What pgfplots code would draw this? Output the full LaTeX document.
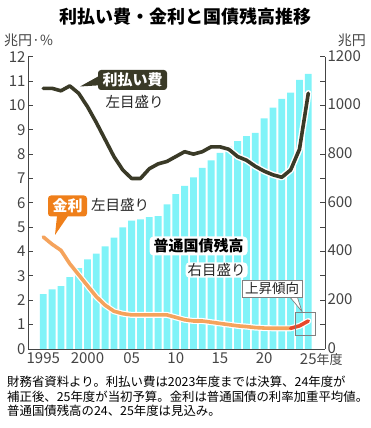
\documentclass[border=0pt]{standalone}
\usepackage{fontspec}
\setmainfont{Noto Sans CJK JP}
\usepackage{pgfplots}
\pgfplotsset{compat=1.18}
\definecolor{barcyan}{HTML}{80F3F8}
\definecolor{darkline}{HTML}{3A3A27}
\definecolor{orangeline}{HTML}{F5A35C}
\definecolor{orangebox}{HTML}{EF7F1A}
\definecolor{redline}{HTML}{E8472B}
\definecolor{axisgray}{HTML}{444444}
\begin{document}
\begin{tikzpicture}
\path[use as bounding box] (0pt,0pt) rectangle (370pt,428pt);
% bars (right axis)
\begin{axis}[at={(28pt,79pt)}, anchor=south west, scale only axis,
  width=297pt, height=292.3pt,
  xmin=1993.27, xmax=2026.89, ymin=0, ymax=1200,
  axis y line*=right, axis x line*=bottom,
  axis line style={line width=0.9pt, draw=axisgray},
  ytick={0,200,...,1200}, minor ytick={100,300,...,1100},
  tick align=inside, major tick length=5pt, minor tick length=5pt,
  every tick/.style={line width=0.9pt, draw=axisgray},
  xtick={1995,2000,2005,2010,2015,2020,2025},
  xticklabels={1995,2000,05,10,15,20,{25\rlap{\fontsize{13}{13}\selectfont 年度}}},
  x tick style={draw=none},
  /pgf/number format/assume math mode=true,
  /pgf/number format/1000 sep={},
  ticklabel style={font=\fontsize{15}{15}\selectfont, text=axisgray},
  xticklabel style={yshift=-0.5pt},
  yticklabel style={xshift=-1pt, yshift=1pt},
  clip=false]
\addplot[ybar, bar width=6.8pt, fill=barcyan, draw=none] coordinates {
(1995,225) (1996,245) (1997,258) (1998,295) (1999,332) (2000,368) (2001,392)
(2002,421) (2003,457) (2004,499) (2005,527) (2006,532) (2007,541) (2008,546)
(2009,594) (2010,636) (2011,670) (2012,705) (2013,744) (2014,774) (2015,805)
(2016,831) (2017,853) (2018,874) (2019,887) (2020,947) (2021,991) (2022,1027)
(2023,1052) (2024,1105) (2025,1129)};
\end{axis}
% lines (left axis)
\begin{axis}[at={(28pt,79pt)}, anchor=south west, scale only axis,
  width=297pt, height=292.3pt,
  xmin=1993.27, xmax=2026.89, ymin=0, ymax=12,
  axis y line*=left, axis x line=none,
  axis line style={line width=0.9pt, draw=axisgray},
  ytick={0,1,...,12},
  tick align=inside, major tick length=5pt,
  every tick/.style={line width=0.9pt, draw=axisgray},
  /pgf/number format/assume math mode=true,
  ticklabel style={font=\fontsize{15}{15}\selectfont, text=axisgray},
  yticklabel style={xshift=1pt},
  clip=false]
\pgfplotsset{payline/.style={line join=round, line cap=round}}
\addplot[white, line width=6.5pt, payline] coordinates {
(1995,10.7) (1996,10.7) (1997,10.6) (1998,10.8) (1999,10.5) (2000,9.95) (2001,9.3)
(2002,8.6) (2003,7.9) (2004,7.35) (2005,7.0) (2006,7.0) (2007,7.4) (2008,7.6)
(2009,7.7) (2010,7.9) (2011,8.1) (2012,8.0) (2013,8.1) (2014,8.3) (2015,8.3)
(2016,8.2) (2017,7.9) (2018,7.75) (2019,7.5) (2020,7.3) (2021,7.15) (2022,7.05)
(2023,7.35) (2024,8.2) (2025,10.5)};
\addplot[darkline, line width=3.6pt, payline] coordinates {
(1995,10.7) (1996,10.7) (1997,10.6) (1998,10.8) (1999,10.5) (2000,9.95) (2001,9.3)
(2002,8.6) (2003,7.9) (2004,7.35) (2005,7.0) (2006,7.0) (2007,7.4) (2008,7.6)
(2009,7.7) (2010,7.9) (2011,8.1) (2012,8.0) (2013,8.1) (2014,8.3) (2015,8.3)
(2016,8.2) (2017,7.9) (2018,7.75) (2019,7.5) (2020,7.3) (2021,7.15) (2022,7.05)
(2023,7.35) (2024,8.2) (2025,10.5)};
\addplot[white, line width=6pt, payline] coordinates {
(1995,4.6) (1996,4.3) (1997,4.05) (1998,3.5) (1999,3.05) (2000,2.6) (2001,2.15)
(2002,1.8) (2003,1.55) (2004,1.45) (2005,1.4) (2006,1.4) (2007,1.4) (2008,1.4)
(2009,1.4) (2010,1.3) (2011,1.2) (2012,1.15) (2013,1.15) (2014,1.1) (2015,1.05)
(2016,1.0) (2017,0.95) (2018,0.92) (2019,0.88) (2020,0.86) (2021,0.85) (2022,0.85)
(2023,0.85) (2024,0.95) (2025,1.15)};
\addplot[orangeline, line width=3.6pt, payline] coordinates {
(1995,4.6) (1996,4.3) (1997,4.05) (1998,3.5) (1999,3.05) (2000,2.6) (2001,2.15)
(2002,1.8) (2003,1.55) (2004,1.45) (2005,1.4) (2006,1.4) (2007,1.4) (2008,1.4)
(2009,1.4) (2010,1.3) (2011,1.2) (2012,1.15) (2013,1.15) (2014,1.1) (2015,1.05)
(2016,1.0) (2017,0.95) (2018,0.92) (2019,0.88) (2020,0.86) (2021,0.85) (2022,0.85)
(2023,0.85)};
\addplot[redline, line width=3.6pt, payline] coordinates {
(2023,0.85) (2024,0.95) (2025,1.15)};
\end{axis}
\begin{scope}[x=1pt,y=1pt]
\node[font=\fontsize{18}{20}\selectfont\bfseries] at (185,411) {利払い費・金利と国債残高推移};
\node[anchor=west,inner sep=0pt,font=\fontsize{14}{16}\selectfont,text=axisgray] at (4,388) {兆円·\%};
\node[anchor=east,inner sep=0pt,font=\fontsize{14}{16}\selectfont,text=axisgray] at (366,388) {兆円};
% annotations
\fill[darkline] (99,352) -- (80,341.5) -- (104,343) -- cycle;
\node[fill=darkline, text=white, rounded corners=3pt, inner sep=0pt,
  minimum width=69pt, minimum height=20pt,
  font=\fontsize{15}{15}\selectfont\bfseries] at (132.5,348) {利払い費};
\node[font=\fontsize{14.5}{15}\selectfont, text=black!85] at (134.5,326) {左目盛り};
\fill[orangebox] (57,212) -- (55,193) -- (68,212) -- cycle;
\node[fill=orangebox, text=white, rounded corners=3pt, inner sep=0pt,
  minimum width=39pt, minimum height=21pt,
  font=\fontsize{15}{15}\selectfont\bfseries] at (67.5,222) {金利};
\node[font=\fontsize{14.5}{15}\selectfont, text=black!85] at (120,223) {左目盛り};
\node[fill=white, rounded corners=4pt, inner sep=0pt,
  minimum width=98pt, minimum height=19pt,
  font=\fontsize{15}{15}\selectfont\bfseries] at (198.5,182) {普通国債残高};
\node[fill=white, rounded corners=4pt, inner xsep=2pt, inner ysep=1pt,
  font=\fontsize{14.5}{15}\selectfont, text=black!85] at (216.5,158) {右目盛り};
\draw[gray, line width=0.7pt] (295,93) rectangle (315,116);
\draw[gray, fill=white, line width=0.7pt] (289,132) -- (302,116.5) -- (297,132);
\node[draw=gray, fill=white, line width=0.7pt, inner sep=0pt,
  minimum width=60pt, minimum height=17pt,
  font=\fontsize{13.5}{14}\selectfont, text=black!85] at (272,139.5) {上昇傾向};
% footnote
\begin{scope}[font=\fontsize{12.4}{13}\selectfont]
\node[anchor=west, inner sep=0pt] at (7,46) {財務省資料より。利払い費は2023年度までは決算、24年度が};
\node[anchor=west, inner sep=0pt] at (7,31.5) {補正後、25年度が当初予算。金利は普通国債の利率加重平均値。};
\node[anchor=west, inner sep=0pt] at (7,17) {普通国債残高の24、25年度は見込み。};
\end{scope}
\end{scope}
\end{tikzpicture}
\end{document}
